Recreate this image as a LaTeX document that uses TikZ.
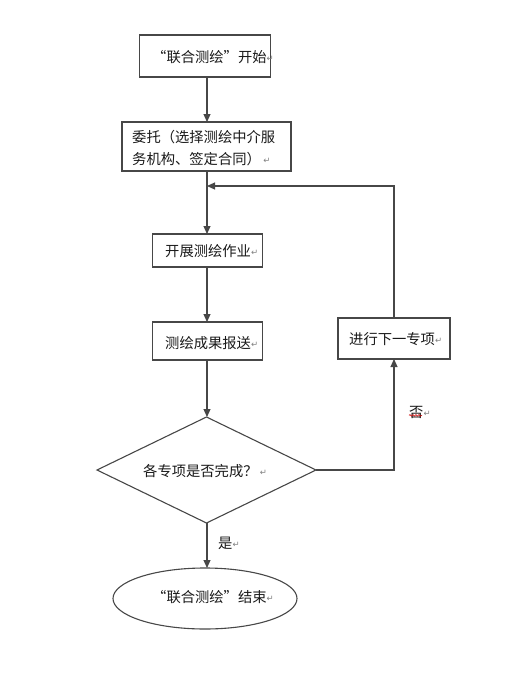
\documentclass[tikz,border=0pt]{standalone}
\usepackage{fontspec}
\newfontfamily\cjk{Noto Sans CJK SC}
\newfontfamily\dvs{DejaVu Sans}
\usetikzlibrary{shapes.geometric,arrows.meta,decorations.pathmorphing}
\newcommand{\retmark}{{\dvs\fontsize{8.5}{8.5}\selectfont\color{black!50}\raisebox{0.5pt}{↵}}}
\begin{document}
\begin{tikzpicture}[x=1pt,y=-1pt,
  linecol/.style={draw=black!72, line width=1.1pt},
  boxnode/.style={linecol, rectangle, inner sep=0pt, outer sep=0pt},
  lbl/.style={anchor=west, inner sep=0pt, font=\cjk\fontsize{14.3}{22}\selectfont, text=black!90},
  conn/.style={linecol, -{Triangle[length=8pt,width=7pt]}},
  plain/.style={linecol}
]
\useasboundingbox (0,0) rectangle (508,683);
% boxes
\node[boxnode, minimum width=131pt, minimum height=42pt] (b1) at (205,56) {};
\node[boxnode, minimum width=169pt, minimum height=49pt] (b2) at (206.5,146.5) {};
\node[boxnode, minimum width=110pt, minimum height=33pt] (b3) at (207.5,250.5) {};
\node[boxnode, minimum width=110pt, minimum height=38pt] (b4) at (207.5,341) {};
\node[boxnode, minimum width=112pt, minimum height=41pt] (b5) at (394,338.5) {};
\node[linecol, diamond, inner sep=0pt, outer sep=0pt, minimum width=219pt, minimum height=106pt] (d) at (206.5,470) {};
\node[linecol, ellipse, inner sep=0pt, outer sep=0pt, minimum width=184pt, minimum height=61pt] (e) at (205,598.5) {};
% labels
\node[lbl] (t1) at (152,57) {“联合测绘”开始\retmark};
\node[lbl, align=left] (t2) at (132,148) {委托（选择测绘中介服\\务机构、签定合同）\,\retmark};
\node[lbl] (t3) at (165,251) {开展测绘作业\retmark};
\node[lbl] (t4) at (165,343) {测绘成果报送\retmark};
\node[lbl] (t5) at (349,339) {进行下一专项\retmark};
\node[lbl] (td) at (143,471) {各专项是否完成？\,\retmark};
\node[lbl] (te) at (152,597) {“联合测绘”结束\retmark};
\node[lbl] (tno) at (409,412) {否\retmark};
\node[lbl] (tyes) at (218,543) {是\retmark};
\draw[red!80!black, line width=0.6pt, decorate, decoration={snake, amplitude=0.8pt, segment length=3pt}] ([yshift=3pt]tno.south west) -- ([yshift=3pt,xshift=13pt]tno.south west);
% connectors (main column at x = 207)
\coordinate (axis) at (207,0);
\coordinate (j) at (207,186);
\draw[conn] (b1.south -| axis) -- (b2.north -| axis);
\draw[conn] (b2.south -| axis) -- (b3.north -| axis);
\draw[conn] (b3.south -| axis) -- (b4.north -| axis);
\draw[conn] (b4.south -| axis) -- (d.north -| axis);
\draw[conn] (d.east) -| (b5.south);
\draw[conn] (b5.north) |- (j);
\draw[conn] (d.south -| axis) -- (e.north -| axis);
\end{tikzpicture}
\end{document}
